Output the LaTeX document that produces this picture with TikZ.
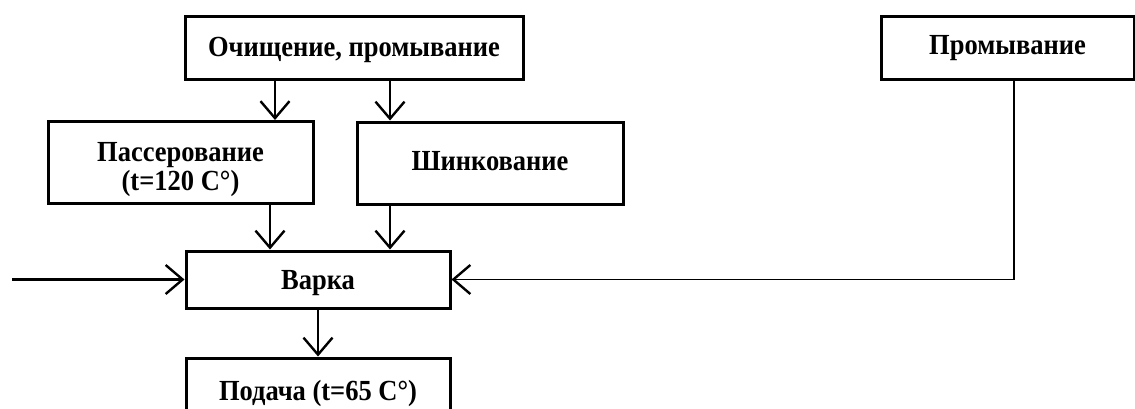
\documentclass[tikz,border=0pt]{standalone}
\usepackage{graphicx}
\usepackage{fontspec}
\setmainfont{Liberation Serif}
\usetikzlibrary{arrows.meta}
\newcommand{\tallt}[2]{\raisebox{#1}[\height][\depth]{\scalebox{1}[1.1]{#2}}}
\tikzset{
  box/.style={draw=black, line width=3pt, rectangle, inner sep=0pt,
    font=\fontsize{26.5}{30}\selectfont\bfseries},
  arr/.style={draw=black, line width=2.4pt,
    -{Straight Barb[length=17pt,width=29pt,line width=2.4pt]}},
  thinarr/.style={draw=black, line width=1.8pt,
    -{Straight Barb[length=17pt,width=29pt,line width=2.4pt]}}
}
\begin{document}
\begin{tikzpicture}[x=1pt,y=-1pt]
\useasboundingbox (0,0) rectangle (1135,408);
\node[box, minimum width=338pt, minimum height=63pt] (clean) at (354,47.5) {\tallt{-2pt}{Очищение, промывание}};
\node[box, minimum width=265pt, minimum height=82pt] (pass) at (180.5,162.5) {\tallt{-7pt}{\begin{tabular}{@{}c@{}}Пассерование\\[-3pt](t=120 C°)\end{tabular}}};
\node[box, minimum width=266pt, minimum height=82pt] (shink) at (490,163) {\tallt{2pt}{Шинкование}};
\node[box, minimum width=264pt, minimum height=57pt] (varka) at (318,279.5) {\tallt{-4pt}{Варка}};
\node[box, minimum width=264pt, minimum height=64pt] (podacha) at (318,390) {\tallt{-3pt}{Подача (t=65 C°)}};
\node[box, minimum width=253pt, minimum height=63pt] (prom) at (1007.5,47.5) {\tallt{-1pt}{Промывание}};
\coordinate (xa) at (275,0);
\coordinate (xb) at (270,0);
\coordinate (xc) at (390,0);
\coordinate (xr) at (1014,0);
\coordinate (inl) at (12,279.5);
\draw[arr] (clean.south -| xa) -- (pass.north -| xa);
\draw[arr] (clean.south -| xc) -- (shink.north -| xc);
\draw[arr] (pass.south -| xb) -- (varka.north -| xb);
\draw[arr] (shink.south -| xc) -- (varka.north -| xc);
\draw[arr] (varka.south) -- (podacha.north);
\draw[arr] (inl) -- (varka.west);
\draw[thinarr] (prom.south -| xr) |- (varka.east);
\end{tikzpicture}
\end{document}
